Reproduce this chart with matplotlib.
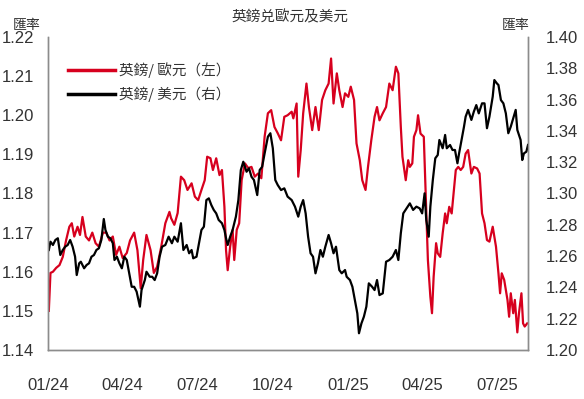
import matplotlib
matplotlib.use("Agg")
import matplotlib.pyplot as plt
import pandas as pd

plt.rcParams['font.family'] = ['Liberation Sans', 'Noto Sans CJK TC']

start = pd.Timestamp("2024-01-01")

# GBP/EUR (left axis): days since 2024-01-01, value
eur_days = [1, 3, 6, 10, 14, 18, 22, 26, 29, 32, 36, 39, 42, 46, 50, 54, 58, 62, 67, 71,
            75, 79, 83, 87, 91, 96, 100, 105, 109, 113, 116, 120, 125, 129, 133, 138, 143, 148,
            150, 154, 158, 162, 166, 170, 175, 179, 183, 187, 191, 194, 198, 201, 205, 209, 212,
            215, 217, 219, 222, 225, 227, 230, 233, 236, 240, 244, 248, 252, 256, 260, 264, 268,
            272, 276, 280, 284, 288, 292, 297, 299, 303, 305, 308, 311, 315, 318, 322, 326, 330,
            334, 338, 342, 345, 348, 352, 355, 359, 362, 366, 369, 373, 376, 380, 383, 387, 390,
            394, 398, 401, 404, 408, 412, 416, 420, 424, 427, 430, 432, 436, 439, 441, 444, 446,
            449, 451, 454, 458, 460, 463, 466, 468, 470, 473, 475, 478, 481, 484, 486, 489, 492,
            495, 497, 500, 503, 506, 509, 512, 516, 519, 523, 526, 529, 532, 535, 538, 542, 546,
            549, 551, 553, 556, 560, 562, 564, 567, 569, 572, 574, 577, 579, 581, 584]
eur_vals = [1.1500, 1.1597, 1.1600, 1.1610, 1.1617, 1.1638, 1.1680, 1.1715, 1.1724, 1.1690,
            1.1715, 1.1694, 1.1740, 1.1690, 1.1680, 1.1700, 1.1673, 1.1664, 1.1700, 1.1700,
            1.1680, 1.1690, 1.1643, 1.1664, 1.1635, 1.1648, 1.1680, 1.1700, 1.1655, 1.1558,
            1.1630, 1.1694, 1.1655, 1.1597, 1.1613, 1.1664, 1.1724, 1.1753,
            1.1737, 1.1720, 1.1750, 1.1843, 1.1834, 1.1809, 1.1826, 1.1792, 1.1783, 1.1809,
            1.1834, 1.1894, 1.1890, 1.1860, 1.1890, 1.1847, 1.1860, 1.1766, 1.1655, 1.1604,
            1.1664, 1.1707, 1.1630, 1.1707, 1.1724, 1.1834, 1.1877, 1.1865, 1.1868, 1.1843,
            1.1851, 1.1839, 1.1945, 1.2005, 1.2013, 1.1970, 1.1954,
            1.1936, 1.1996, 1.2000, 1.2009, 1.1992, 1.2030, 1.1843, 1.1911, 1.2005, 1.2081,
            1.2021, 1.1962, 1.2021, 1.1962, 1.2039, 1.2064, 1.2081, 1.2145, 1.2030, 1.2107,
            1.2064, 1.2021, 1.2056, 1.2047, 1.2073, 1.2039, 1.1928, 1.1885, 1.1834, 1.1809,
            1.1868, 1.1936, 1.1996, 1.2021, 1.1987, 1.2005, 1.2021, 1.2081, 1.2064, 1.2124,
            1.2107, 1.1970, 1.1894, 1.1834, 1.1885,
            1.1868, 1.1877, 1.1945, 1.1962, 1.2000, 1.1953, 1.1945, 1.1817, 1.1630, 1.1536,
            1.1494, 1.1587, 1.1673, 1.1647, 1.1638, 1.1698, 1.1749, 1.1724, 1.1766, 1.1749,
            1.1817, 1.1860, 1.1868, 1.1860, 1.1868, 1.1902, 1.1911, 1.1851, 1.1868, 1.1864,
            1.1851, 1.1749, 1.1724, 1.1681, 1.1677, 1.1715, 1.1664, 1.1596, 1.1545, 1.1596,
            1.1579, 1.1528, 1.1485, 1.1545, 1.1494, 1.1528, 1.1445, 1.1494, 1.1545, 1.1468,
            1.1460, 1.1468]

# GBP/USD (right axis): days since 2024-01-01, value
usd_days = [1, 3, 6, 9, 12, 15, 18, 21, 24, 27, 30, 33, 35, 38, 40, 44, 47, 50, 53, 56,
            59, 62, 65, 68, 70, 73, 76, 79, 81, 84, 87, 90, 93, 96, 99, 102, 105, 108, 112,
            114, 118, 120, 124, 127, 130, 133, 136, 139, 143, 147,
            151, 154, 158, 162, 165, 169, 172, 175, 177, 181, 184, 187, 190, 193, 196, 199,
            202, 205, 208, 212, 215, 217, 219, 222, 225, 229, 232, 235, 238, 242, 245, 248,
            251, 255, 258, 261, 264, 268, 271, 274, 277, 280, 284, 288,
            292, 297, 301, 305, 308, 311, 314, 317, 320, 323, 326, 329, 332, 335, 338, 342,
            345, 348, 351, 355, 358, 362, 364, 368, 371, 374, 377, 379, 382, 385, 388, 391,
            395, 398, 401, 404, 408, 412, 416, 420, 424, 427, 430, 433, 437,
            441, 445, 449, 453, 456, 459, 461, 464, 466, 469, 472, 475, 477, 481, 484, 486,
            490, 493, 496, 499, 501, 504, 507, 509, 512, 516, 519, 522, 525, 529, 532, 535,
            538, 542, 544, 547, 549, 552, 555, 558, 561, 564, 567, 570, 572, 576, 578, 580,
            583, 585]
usd_vals = [1.2639, 1.2692, 1.2671, 1.2703, 1.2714, 1.2607, 1.2639, 1.2660, 1.2671, 1.2703,
            1.2660, 1.2596, 1.2479, 1.2554, 1.2564, 1.2522, 1.2543, 1.2554, 1.2596, 1.2607,
            1.2639, 1.2650, 1.2703, 1.2837, 1.2767, 1.2724, 1.2714, 1.2682, 1.2575, 1.2596,
            1.2554, 1.2522, 1.2596, 1.2575, 1.2490, 1.2404, 1.2404, 1.2373, 1.2277,
            1.2383, 1.2447, 1.2500, 1.2468, 1.2468, 1.2447, 1.2490, 1.2596, 1.2660, 1.2671,
            1.2724,
            1.2682, 1.2724, 1.2692, 1.2810, 1.2639, 1.2671, 1.2618, 1.2639, 1.2586, 1.2596,
            1.2682, 1.2767, 1.2788, 1.2958, 1.2969, 1.2927, 1.2895, 1.2873, 1.2831, 1.2810,
            1.2767, 1.2714, 1.2671, 1.2724, 1.2767, 1.2852, 1.2958, 1.3150, 1.3203, 1.3139,
            1.3161, 1.3107, 1.3086, 1.2990, 1.3150, 1.3171, 1.3256, 1.3363, 1.3385, 1.3289,
            1.3086, 1.3054, 1.3022, 1.3033,
            1.2980, 1.2958, 1.2916, 1.2852, 1.2916, 1.2958, 1.2873, 1.2724, 1.2618, 1.2596,
            1.2490, 1.2554, 1.2639, 1.2596, 1.2660, 1.2735, 1.2682, 1.2618, 1.2660, 1.2511,
            1.2490, 1.2511, 1.2468, 1.2447, 1.2404, 1.2319, 1.2234, 1.2107, 1.2170, 1.2213,
            1.2277, 1.2426, 1.2404, 1.2383, 1.2447, 1.2351, 1.2362, 1.2564, 1.2575, 1.2596,
            1.2639, 1.2575, 1.2746, 1.2873, 1.2905,
            1.2937, 1.2895, 1.2916, 1.2905, 1.2873, 1.3001, 1.2831, 1.2724, 1.2916, 1.3086,
            1.3225, 1.3246, 1.3342, 1.3289, 1.3374, 1.3289, 1.3310, 1.3278, 1.3278, 1.3193,
            1.3256, 1.3342, 1.3427, 1.3491, 1.3534, 1.3470, 1.3523, 1.3565, 1.3512, 1.3576,
            1.3576, 1.3417, 1.3491, 1.3619, 1.3725, 1.3704, 1.3693, 1.3597, 1.3576, 1.3512,
            1.3385, 1.3427, 1.3480, 1.3534, 1.3406, 1.3342, 1.3214, 1.3256, 1.3267, 1.3310]

tick_dates = ["2024-01-01", "2024-04-01", "2024-07-01", "2024-10-01",
              "2025-01-01", "2025-04-01", "2025-07-01"]
tick_labels = ["01/24", "04/24", "07/24", "10/24", "01/25", "04/25", "07/25"]

eur_x = [start + pd.Timedelta(days=d) for d in eur_days]
usd_x = [start + pd.Timedelta(days=d) for d in usd_days]

red = '#d7001e'
txt = '#333333'
spine_c = '#8c8c8c'
cjk = ['Noto Sans CJK TC', 'Liberation Sans']

fig = plt.figure(figsize=(5.84, 3.99), dpi=100)
ax = fig.add_axes([0.0822, 0.1228, 0.8219, 0.7845])
ax2 = ax.twinx()

l1, = ax.plot(eur_x, eur_vals, color=red, lw=1.6, label='英鎊/ 歐元（左）')
l2, = ax2.plot(usd_x, usd_vals, color='black', lw=1.6, label='英鎊/ 美元（右）')

ax.set_xlim(start, start + pd.Timedelta(days=585))
ax.set_ylim(1.14, 1.22)
ax2.set_ylim(1.20, 1.40)
ax.set_yticks([1.14 + 0.01 * i for i in range(9)])
ax2.set_yticks([1.20 + 0.02 * i for i in range(11)])
ax.yaxis.set_major_formatter(matplotlib.ticker.FormatStrFormatter('%.2f'))
ax2.yaxis.set_major_formatter(matplotlib.ticker.FormatStrFormatter('%.2f'))
ax.set_xticks([pd.Timestamp(t) for t in tick_dates])
ax.set_xticklabels(tick_labels)

for a in (ax, ax2):
    a.spines['top'].set_visible(False)
    for s in ('left', 'right', 'bottom'):
        a.spines[s].set_color(spine_c)
        a.spines[s].set_linewidth(1.0)
ax.tick_params(axis='y', length=0, pad=10, labelsize=12, labelcolor=txt)
ax2.tick_params(axis='y', length=0, pad=13, labelsize=12, labelcolor=txt)
ax.tick_params(axis='x', length=0, pad=20, labelsize=12, labelcolor=txt)

fig.text(0.497, 0.975, '英鎊兑歐元及美元', ha='center', va='top', fontsize=10.5,
         color=txt, family=cjk)
fig.text(0.022, 0.955, '匯率', ha='left', va='top', fontsize=10, color=txt, family=cjk)
fig.text(0.906, 0.955, '匯率', ha='right', va='top', fontsize=10, color=txt, family=cjk)

leg = ax.legend(handles=[l1, l2], loc='upper left', bbox_to_anchor=(0.015, 0.96),
                frameon=False, handlelength=3.2, handletextpad=0.3, labelspacing=0.55,
                prop={'family': cjk, 'size': 10.5})
for t in leg.get_texts():
    t.set_color(txt)
for h in leg.legend_handles:
    h.set_linewidth(2.5)

fig.savefig('out.png', dpi=100)
